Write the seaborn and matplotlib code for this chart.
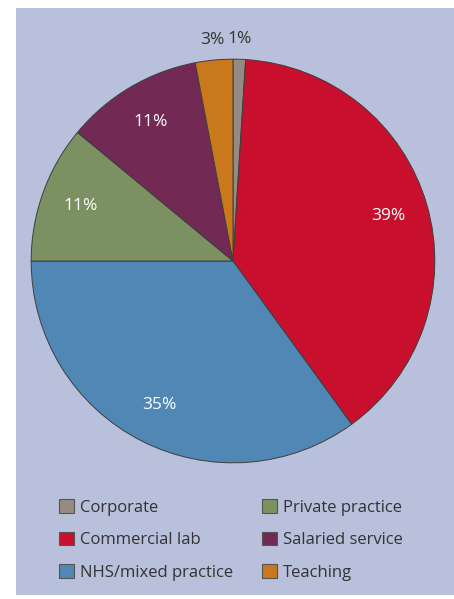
import numpy as np
import matplotlib
matplotlib.use("Agg")
import matplotlib.pyplot as plt
import matplotlib.patches as mpatches
import seaborn as sns

# data
sectors = ['Corporate', 'Commercial lab', 'NHS/mixed practice',
           'Private practice', 'Salaried service', 'Teaching']
shares = [1, 39, 35, 11, 11, 3]
colours = ['#958b82', '#c8102e', '#5087b5', '#7b9161', '#722a55', '#c9781c']

sns.set_theme(style='white')
plt.rcParams['font.family'] = ['Open Sans', 'DejaVu Sans']

fig = plt.figure(figsize=(4.54, 5.99), dpi=100)
fig.patch.set_facecolor('white')

# lavender panel behind everything
panel = mpatches.Rectangle((16 / 454, 4 / 599), 1 - 16 / 454, 1 - 12 / 599,
                           transform=fig.transFigure, facecolor='#b8c0dc',
                           edgecolor='none', zorder=-5)
fig.add_artist(panel)

ax = fig.add_axes([11 / 454, 116 / 599, 444 / 454, 444 / 599])
ax.set_zorder(2)
ax.set_facecolor('none')
pal = sns.color_palette(colours)

wedges, _ = ax.pie(shares, colors=pal, startangle=90, counterclock=False,
                   wedgeprops=dict(edgecolor='#3d3d3d', linewidth=0.7))
ax.set_xlim(-1.1, 1.1)
ax.set_ylim(-1.1, 1.1)
ax.set_aspect('equal')
ax.axis('off')

# percentage labels, small ones outside the pie
for w, v in zip(wedges, shares):
    mid = np.deg2rad((w.theta1 + w.theta2) / 2)
    if v < 5:
        r, col = 1.1, '#333333'
    else:
        r, col = 0.8, 'white'
    ax.text(r * np.cos(mid), r * np.sin(mid), f'{v}%', ha='center',
            va='center', color=col, fontsize=12.5)

handles = [mpatches.Patch(facecolor=c, edgecolor='#555555', linewidth=0.8)
           for c in colours]
leg = fig.legend(handles, sectors, ncol=2, loc='upper left',
                 bbox_to_anchor=(44 / 454, 1 - 484 / 599), frameon=False,
                 fontsize=12, handlelength=0.9, handleheight=0.9,
                 handletextpad=0.35, columnspacing=1.75, labelspacing=0.95,
                 labelcolor='#333333')
leg.set_zorder(3)

fig.savefig('out.png', dpi=100)
